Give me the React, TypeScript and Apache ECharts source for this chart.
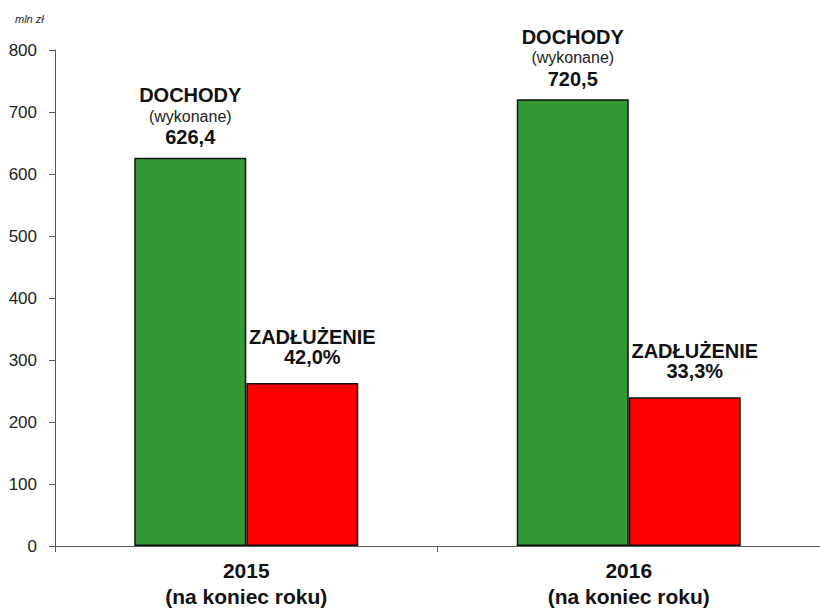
import React, { useEffect, useRef } from "react";
import * as echarts from "echarts";

const years = ["2015", "2016"];
const yearNote = "(na koniec roku)";
const revenue = [626.4, 720.5];
const debt = [263.1, 239.9];
const debtShare = [42.0, 33.3];
const unitLabel = "mln zł";
const revenueTitle = "DOCHODY";
const revenueNote = "(wykonane)";
const debtTitle = "ZADŁUŻENIE";

const fmt = (v: number) => v.toFixed(1).replace(".", ",");
const FONT = "Arial, 'Liberation Sans', sans-serif";

export default function App() {
  const ref = useRef<HTMLDivElement>(null);
  useEffect(() => {
    if (!ref.current) return;
    const chart = echarts.init(ref.current, undefined, { renderer: "svg" });
    chart.setOption({
      animation: false,
      textStyle: { fontFamily: FONT },
      graphic: [
        {
          type: "text",
          left: 15,
          top: 13,
          style: { text: unitLabel, fontSize: 11, fontStyle: "italic", fill: "#222", fontFamily: FONT },
        },
      ],
      grid: { left: 55, top: 50, height: 501, width: 776 },
      xAxis: {
        type: "category",
        data: years.map((y) => `${y}\n${yearNote}`),
        axisLine: { lineStyle: { color: "#595959", width: 1 } },
        axisTick: { show: true, length: 6, lineStyle: { color: "#595959" } },
        axisLabel: {
          color: "#111",
          fontWeight: "bold",
          fontSize: 21,
          lineHeight: 26,
          margin: 11,
          fontFamily: FONT,
        },
      },
      yAxis: {
        type: "value",
        min: 0,
        max: 800,
        interval: 100,
        splitLine: { show: false },
        axisLine: { show: true, lineStyle: { color: "#595959", width: 1 } },
        axisTick: { show: true, length: 6, lineStyle: { color: "#595959" } },
        axisLabel: { color: "#222", fontSize: 17, margin: 18, fontFamily: FONT },
      },
      series: [
        {
          type: "bar",
          data: revenue,
          barWidth: 112,
          barGap: "0%",
          itemStyle: { color: "#339933", borderColor: "#111", borderWidth: 1.5 },
          label: {
            show: true,
            position: "top",
            distance: 10,
            formatter: (p: any) => `{a|${revenueTitle}}\n{b|${revenueNote}}\n{a|${fmt(revenue[p.dataIndex])}}`,
            rich: {
              a: { fontSize: 20, fontWeight: "bold", lineHeight: 21, color: "#111", fontFamily: FONT },
              b: { fontSize: 16, lineHeight: 21, color: "#222", fontFamily: FONT },
            },
          },
        },
        {
          type: "bar",
          data: debt,
          barWidth: 112,
          barGap: "0%",
          itemStyle: { color: "#ff0000", borderColor: "#111", borderWidth: 1.5 },
          label: {
            show: true,
            position: "top",
            distance: 16,
            offset: [10, 0],
            formatter: (p: any) => `{a|${debtTitle}}\n{a|${fmt(debtShare[p.dataIndex])}%}`,
            rich: {
              a: { fontSize: 20, fontWeight: "bold", lineHeight: 20, color: "#111", fontFamily: FONT },
            },
          },
        },
      ],
    });
    return () => chart.dispose();
  }, []);
  return <div ref={ref} style={{ width: 820, height: 609, position: "absolute", left: 0, top: 0 }} />;
}
